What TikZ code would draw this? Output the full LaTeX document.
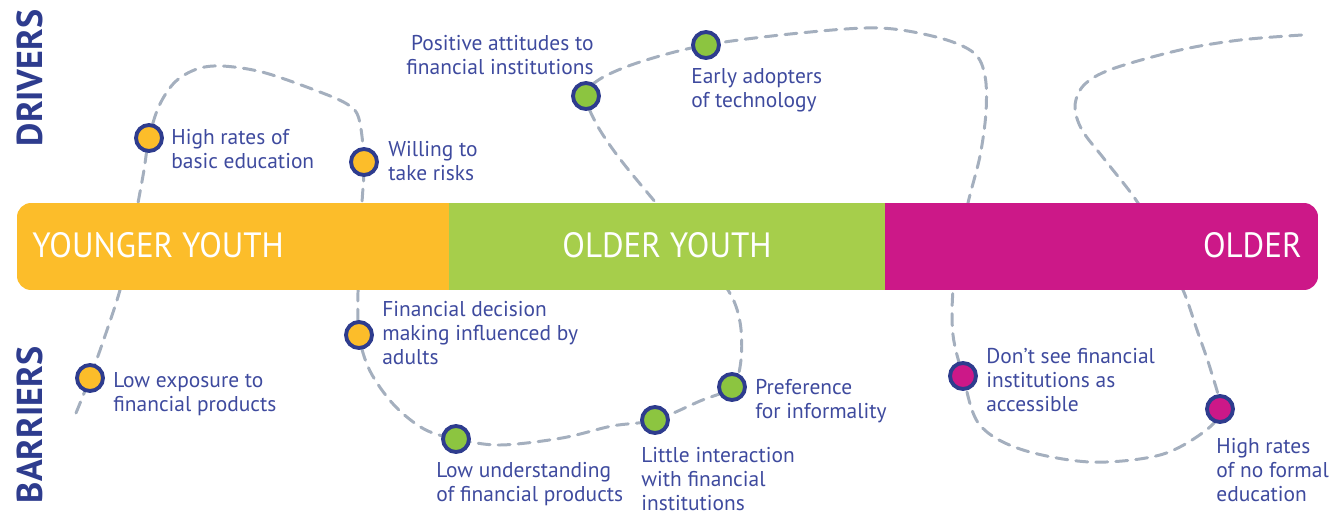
\documentclass[tikz,border=0pt]{standalone}
\usepackage{fontspec}
\setmainfont{PT Sans}
\newfontfamily\bandfont{PT Sans}[FakeStretch=0.94]
\definecolor{navy}{HTML}{2E3C8E}
\definecolor{txtblue}{HTML}{3E4A9E}
\definecolor{ylw}{HTML}{FCBD2A}
\definecolor{grn}{HTML}{A6CE4B}
\definecolor{mag}{HTML}{CC1888}
\definecolor{dotgrn}{HTML}{8CC540}
\definecolor{trail}{HTML}{A4AFBE}
\tikzset{
  dot/.style={circle,draw=navy,line width=2.2pt,fill=#1,minimum size=.52cm,inner sep=0pt},
  txt/.style={anchor=west,align=left,inner sep=0pt,text=txtblue,font=\fontsize{12.2}{13.6}\selectfont},
  side/.style={rotate=90,inner sep=0pt,text=navy,font=\fontsize{20.5}{22}\selectfont\bfseries},
  band/.style={inner sep=0pt,text=white,font=\bandfont\fontsize{20}{22}\selectfont}
}
\begin{document}
\begin{tikzpicture}[x=0.02cm,y=-0.02cm]
  \useasboundingbox (0,0) rectangle (1332,514);
  % where the dots sit
  \coordinate (hrbe) at (149,138);
  \coordinate (wtr) at (364,162);
  \coordinate (pa) at (586,96);
  \coordinate (ea) at (706,45);
  \coordinate (lowexp) at (90,378);
  \coordinate (fdm) at (359,335);
  \coordinate (lu) at (456,439);
  \coordinate (li) at (655,420);
  \coordinate (pi) at (732,387);
  \coordinate (dsf) at (963,376);
  \coordinate (hrnf) at (1220,409);
  \coordinate (start) at (76,413);
  \coordinate (end) at (1302,35);
  % the trail, under the band
  \draw[trail,line width=1.7pt,dash pattern=on 6.8pt off 4.6pt,line cap=round]
    plot[smooth,tension=.55] coordinates {(start) (lowexp) (106,333) (120,290) (130,246) (138,203)
      (144,170) (hrbe) (159,106) (175,82) (197,69) (222,66) (262,72) (312,89) (347,104) (359,119)
      (wtr) (362,203) (360,246) (358,292) (fdm) (370,371) (394,405) (424,429) (lu) (500,445)
      (562,438) (612,426) (li) (700,401) (pi) (741,360) (740,322) (728,290) (692,246) (656,203)
      (620,159) (597,125) (pa) (600,79) (640,62) (ea) (800,33) (880,28) (940,38) (974,53) (985,76)
      (986,112) (980,156) (968,203) (960,246) (953,290) (953,335) (dsf) (979,424) (1020,449)
      (1090,462) (1160,455) (1205,431) (hrnf) (1211,371) (1197,330) (1183,290) (1160,246)
      (1138,203) (1105,160) (1082,130) (1075,106) (1084,85) (1112,69) (1180,50) (1240,40) (end)};
  % the band
  \begin{scope}
    \clip[rounded corners=8] (17,203) rectangle (1318,290);
    \fill[ylw] (17,203) rectangle (449,290);
    \fill[grn] (449,203) rectangle (885,290);
    \fill[mag] (885,203) rectangle (1318,290);
  \end{scope}
  \node (yy) [band,anchor=west] at (32,245) {YOUNGER YOUTH};
  \node (oy) [band] at (667,245) {OLDER YOUTH};
  \node (old) [band,anchor=east] at (1302,245) {OLDER};
  \node (drv) [side] at (30,78) {DRIVERS};
  \node (bar) [side] at (30,425) {BARRIERS};
  % drivers
  \node (d1) [dot=ylw] at (hrbe) {};
  \node [txt] at (171,149) {High rates of\\basic education};
  \node (d2) [dot=ylw] at (wtr) {};
  \node [txt] at (388,161) {Willing to\\take risks};
  \node (d3) [dot=dotgrn] at (pa) {};
  \node [txt,anchor=east,align=right] at (594,55) {Positive attitudes to\\financial institutions};
  \node (d4) [dot=dotgrn] at (ea) {};
  \node [txt] at (691,90) {Early adopters\\of technology};
  % barriers
  \node (b1) [dot=ylw] at (lowexp) {};
  \node [txt] at (113,394) {Low exposure to\\financial products};
  \node (b2) [dot=ylw] at (fdm) {};
  \node [txt] at (382,333) {Financial decision\\making influenced by\\adults};
  \node (b3) [dot=dotgrn] at (lu) {};
  \node [txt] at (436,484) {Low understanding\\of financial products};
  \node (b4) [dot=dotgrn] at (li) {};
  \node [txt] at (641,479) {Little interaction\\with financial\\institutions};
  \node (b5) [dot=dotgrn] at (pi) {};
  \node [txt] at (755,401) {Preference\\for informality};
  \node (b6) [dot=mag] at (dsf) {};
  \node [txt] at (986,380) {Don’t see financial\\institutions as\\accessible};
  \node (b7) [dot=mag] at (hrnf) {};
  \node [txt] at (1216,470) {High rates\\of no formal\\education};
\end{tikzpicture}
\end{document}
